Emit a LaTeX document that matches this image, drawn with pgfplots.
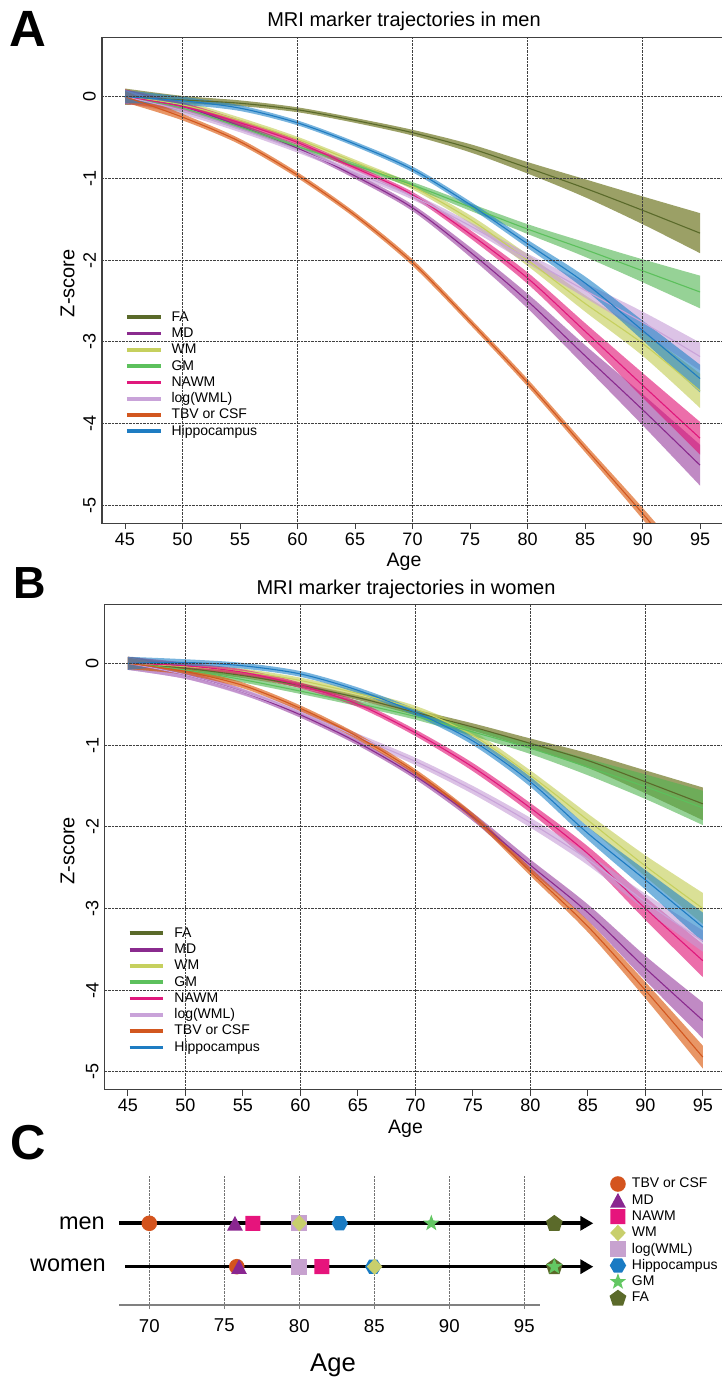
\documentclass[border=0pt]{standalone}
\usepackage{fontspec}
\setmainfont{Liberation Sans}
\usepackage{pgfplots}
\pgfplotsset{compat=1.18}
\usepackage{pgfplotstable}
\usepgfplotslibrary{fillbetween}
\usetikzlibrary{arrows.meta}

% line colours
\definecolor{cFA}{HTML}{5A6A2A}
\definecolor{cMD}{HTML}{8A2B8E}
\definecolor{cWM}{HTML}{C6D05E}
\definecolor{cGM}{HTML}{5CC05C}
\definecolor{cNAWM}{HTML}{E0187C}
\definecolor{cWML}{HTML}{C9A3D9}
\definecolor{cTBV}{HTML}{D2571F}
\definecolor{cHIP}{HTML}{1E7CC2}
% band colours
\definecolor{bFA}{HTML}{586100}
\definecolor{bMD}{HTML}{963C9D}
\definecolor{bWM}{HTML}{C1CB50}
\definecolor{bGM}{HTML}{50B450}
\definecolor{bNAWM}{HTML}{DF0D71}
\definecolor{bWML}{HTML}{C59BD5}
\definecolor{bTBV}{HTML}{D95000}
\definecolor{bHIP}{HTML}{1E82C8}
% marker colours (panel C)
\definecolor{mTBV}{HTML}{D4541E}
\definecolor{mMD}{HTML}{8A2690}
\definecolor{mNAWM}{HTML}{E6147C}
\definecolor{mWM}{HTML}{C8CF6C}
\definecolor{mWML}{HTML}{C7A2CF}
\definecolor{mHIP}{HTML}{1A7BC3}
\definecolor{mGM}{HTML}{63C763}
\definecolor{mFA}{HTML}{5B6A2A}

% custom filled marks
\pgfdeclareplotmark{mCirc}{\pgfpathcircle{\pgfpointorigin}{7.8pt}\pgfusepathqfill}
\pgfdeclareplotmark{mTri}{\pgfpathmoveto{\pgfpoint{0pt}{7.4pt}}\pgfpathlineto{\pgfpoint{-7.9pt}{-7.3pt}}\pgfpathlineto{\pgfpoint{7.9pt}{-7.3pt}}\pgfpathclose\pgfusepathqfill}
\pgfdeclareplotmark{mRsq}{{\pgfsetcornersarced{\pgfpoint{3pt}{3pt}}\pgfpathmoveto{\pgfpoint{0pt}{-7.5pt}}\pgfpathlineto{\pgfpoint{7.5pt}{-7.5pt}}\pgfpathlineto{\pgfpoint{7.5pt}{7.5pt}}\pgfpathlineto{\pgfpoint{-7.5pt}{7.5pt}}\pgfpathlineto{\pgfpoint{-7.5pt}{-7.5pt}}\pgfpathlineto{\pgfpoint{0pt}{-7.5pt}}\pgfpathclose\pgfusepathqfill}}
\pgfdeclareplotmark{mSq}{\pgfpathrectangle{\pgfpoint{-7.9pt}{-7.9pt}}{\pgfpoint{15.8pt}{15.8pt}}\pgfusepathqfill}
\pgfdeclareplotmark{mDia}{\pgfpathmoveto{\pgfpoint{0pt}{8.2pt}}\pgfpathlineto{\pgfpoint{7.8pt}{0pt}}\pgfpathlineto{\pgfpoint{0pt}{-8.2pt}}\pgfpathlineto{\pgfpoint{-7.8pt}{0pt}}\pgfpathclose\pgfusepathqfill}
\pgfdeclareplotmark{mHex}{\pgfpathmoveto{\pgfpoint{8.2pt}{0pt}}\pgfpathlineto{\pgfpoint{4.1pt}{7.1pt}}\pgfpathlineto{\pgfpoint{-4.1pt}{7.1pt}}\pgfpathlineto{\pgfpoint{-8.2pt}{0pt}}\pgfpathlineto{\pgfpoint{-4.1pt}{-7.1pt}}\pgfpathlineto{\pgfpoint{4.1pt}{-7.1pt}}\pgfpathclose\pgfusepathqfill}
\pgfdeclareplotmark{mStar}{\pgfpathmoveto{\pgfpoint{0pt}{8.6pt}}\pgfpathlineto{\pgfpoint{2.06pt}{2.83pt}}\pgfpathlineto{\pgfpoint{8.18pt}{2.66pt}}\pgfpathlineto{\pgfpoint{3.33pt}{-1.08pt}}\pgfpathlineto{\pgfpoint{5.05pt}{-6.96pt}}\pgfpathlineto{\pgfpoint{0pt}{-3.5pt}}\pgfpathlineto{\pgfpoint{-5.05pt}{-6.96pt}}\pgfpathlineto{\pgfpoint{-3.33pt}{-1.08pt}}\pgfpathlineto{\pgfpoint{-8.18pt}{2.66pt}}\pgfpathlineto{\pgfpoint{-2.06pt}{2.83pt}}\pgfpathclose\pgfusepathqfill}
\pgfdeclareplotmark{mPent}{\pgfpathmoveto{\pgfpoint{0pt}{8.4pt}}\pgfpathlineto{\pgfpoint{8.37pt}{2.32pt}}\pgfpathlineto{\pgfpoint{5.17pt}{-7.52pt}}\pgfpathlineto{\pgfpoint{-5.17pt}{-7.52pt}}\pgfpathlineto{\pgfpoint{-8.37pt}{2.32pt}}\pgfpathclose\pgfusepathqfill}

% ---------------- data: men ----------------
\pgfplotstableread{
a m lo hi
45 0 -0.10 0.10
50 -0.04 -0.09 0.01
55 -0.08 -0.115 -0.045
60 -0.16 -0.19 -0.13
65 -0.29 -0.32 -0.26
70 -0.44 -0.475 -0.405
75 -0.63 -0.68 -0.58
80 -0.87 -0.94 -0.80
85 -1.12 -1.23 -1.01
90 -1.39 -1.56 -1.22
95 -1.67 -1.915 -1.425
}\FAm
\pgfplotstableread{
a m lo hi
45 0 -0.08 0.08
50 -0.12 -0.17 -0.07
55 -0.36 -0.395 -0.325
60 -0.63 -0.66 -0.60
65 -0.97 -1.005 -0.935
70 -1.36 -1.40 -1.32
75 -1.90 -1.96 -1.84
80 -2.50 -2.59 -2.41
85 -3.17 -3.30 -3.04
90 -3.83 -4.02 -3.64
95 -4.51 -4.76 -4.26
}\MDm
\pgfplotstableread{
a m lo hi
45 0 -0.08 0.08
50 -0.10 -0.15 -0.05
55 -0.29 -0.325 -0.255
60 -0.52 -0.55 -0.49
65 -0.80 -0.83 -0.77
70 -1.10 -1.135 -1.065
75 -1.50 -1.55 -1.45
80 -2.00 -2.07 -1.93
85 -2.53 -2.63 -2.43
90 -3.02 -3.17 -2.87
95 -3.60 -3.81 -3.39
}\WMm
\pgfplotstableread{
a m lo hi
45 0 -0.08 0.08
50 -0.14 -0.19 -0.09
55 -0.37 -0.405 -0.335
60 -0.61 -0.64 -0.58
65 -0.84 -0.87 -0.81
70 -1.08 -1.115 -1.045
75 -1.35 -1.395 -1.305
80 -1.62 -1.68 -1.56
85 -1.87 -1.96 -1.78
90 -2.13 -2.27 -1.99
95 -2.39 -2.59 -2.19
}\GMm
\pgfplotstableread{
a m lo hi
45 0 -0.09 0.09
50 -0.12 -0.17 -0.07
55 -0.32 -0.355 -0.285
60 -0.56 -0.59 -0.53
65 -0.87 -0.90 -0.84
70 -1.20 -1.235 -1.165
75 -1.68 -1.73 -1.63
80 -2.22 -2.29 -2.15
85 -2.87 -2.97 -2.77
90 -3.53 -3.68 -3.38
95 -4.18 -4.38 -3.98
}\NAWMm
\pgfplotstableread{
a m lo hi
45 0 -0.08 0.08
50 -0.17 -0.22 -0.12
55 -0.40 -0.435 -0.365
60 -0.65 -0.685 -0.615
65 -0.93 -0.965 -0.895
70 -1.22 -1.26 -1.18
75 -1.58 -1.625 -1.535
80 -1.98 -2.04 -1.92
85 -2.37 -2.46 -2.28
90 -2.76 -2.89 -2.63
95 -3.18 -3.35 -3.01
}\WMLm
\pgfplotstableread{
a m lo hi
45 0 -0.07 0.07
50 -0.25 -0.29 -0.21
55 -0.55 -0.585 -0.515
60 -0.96 -0.995 -0.925
65 -1.45 -1.485 -1.415
70 -2.03 -2.07 -1.99
75 -2.75 -2.79 -2.71
80 -3.50 -3.545 -3.455
85 -4.30 -4.35 -4.25
90 -5.10 -5.17 -5.03
95 -5.95 -6.05 -5.85
}\TBVm
\pgfplotstableread{
a m lo hi
45 0 -0.08 0.08
50 -0.05 -0.10 0.00
55 -0.14 -0.175 -0.105
60 -0.32 -0.35 -0.29
65 -0.58 -0.61 -0.55
70 -0.89 -0.925 -0.855
75 -1.32 -1.36 -1.28
80 -1.80 -1.85 -1.75
85 -2.28 -2.36 -2.20
90 -2.86 -2.98 -2.74
95 -3.45 -3.62 -3.28
}\HIPm

% ---------------- data: women ----------------
\pgfplotstableread{
a m lo hi
45 0 -0.08 0.08
50 -0.06 -0.10 -0.02
55 -0.15 -0.18 -0.12
60 -0.27 -0.30 -0.24
65 -0.42 -0.45 -0.39
70 -0.60 -0.635 -0.565
75 -0.78 -0.825 -0.735
80 -0.98 -1.04 -0.92
85 -1.19 -1.28 -1.10
90 -1.45 -1.59 -1.31
95 -1.72 -1.92 -1.52
}\FAw
\pgfplotstableread{
a m lo hi
45 0 -0.08 0.08
50 -0.14 -0.19 -0.09
55 -0.35 -0.385 -0.315
60 -0.63 -0.665 -0.595
65 -0.97 -1.005 -0.935
70 -1.38 -1.42 -1.34
75 -1.88 -1.93 -1.83
80 -2.47 -2.54 -2.40
85 -3.05 -3.15 -2.95
90 -3.73 -3.88 -3.58
95 -4.37 -4.59 -4.15
}\MDw
\pgfplotstableread{
a m lo hi
45 0 -0.08 0.08
50 -0.04 -0.08 0.00
55 -0.10 -0.135 -0.065
60 -0.21 -0.245 -0.175
65 -0.37 -0.405 -0.335
70 -0.56 -0.60 -0.52
75 -0.88 -0.93 -0.83
80 -1.37 -1.43 -1.31
85 -1.92 -2.00 -1.84
90 -2.48 -2.61 -2.35
95 -3.00 -3.19 -2.81
}\WMw
\pgfplotstableread{
a m lo hi
45 0 -0.08 0.08
50 -0.08 -0.12 -0.04
55 -0.20 -0.235 -0.165
60 -0.34 -0.375 -0.305
65 -0.49 -0.525 -0.455
70 -0.65 -0.69 -0.61
75 -0.84 -0.89 -0.79
80 -1.04 -1.11 -0.97
85 -1.27 -1.37 -1.17
90 -1.51 -1.66 -1.36
95 -1.77 -1.98 -1.56
}\GMw
\pgfplotstableread{
a m lo hi
45 0 -0.08 0.08
50 -0.03 -0.07 0.01
55 -0.11 -0.145 -0.075
60 -0.27 -0.305 -0.235
65 -0.50 -0.535 -0.465
70 -0.85 -0.89 -0.81
75 -1.27 -1.32 -1.22
80 -1.77 -1.83 -1.71
85 -2.33 -2.42 -2.24
90 -3.00 -3.14 -2.86
95 -3.64 -3.84 -3.44
}\NAWMw
\pgfplotstableread{
a m lo hi
45 0 -0.08 0.08
50 -0.14 -0.19 -0.09
55 -0.35 -0.39 -0.31
60 -0.60 -0.64 -0.56
65 -0.90 -0.94 -0.86
70 -1.20 -1.245 -1.155
75 -1.55 -1.60 -1.50
80 -1.95 -2.01 -1.89
85 -2.40 -2.47 -2.33
90 -2.92 -3.02 -2.82
95 -3.40 -3.53 -3.27
}\WMLw
\pgfplotstableread{
a m lo hi
45 0 -0.07 0.07
50 -0.10 -0.14 -0.06
55 -0.27 -0.305 -0.235
60 -0.55 -0.585 -0.515
65 -0.90 -0.935 -0.865
70 -1.33 -1.365 -1.295
75 -1.87 -1.91 -1.83
80 -2.55 -2.60 -2.50
85 -3.22 -3.29 -3.15
90 -4.00 -4.10 -3.90
95 -4.82 -4.96 -4.68
}\TBVw
\pgfplotstableread{
a m lo hi
45 0 -0.08 0.08
50 0.01 -0.03 0.05
55 -0.03 -0.065 0.005
60 -0.13 -0.165 -0.095
65 -0.33 -0.365 -0.295
70 -0.60 -0.64 -0.56
75 -0.95 -1.00 -0.90
80 -1.45 -1.51 -1.39
85 -2.08 -2.16 -2.00
90 -2.65 -2.77 -2.53
95 -3.23 -3.41 -3.05
}\HIPw

\newcommand{\band}[3]{%
  \addplot[name path=#3hi, draw=none, forget plot, smooth] table[x=a,y=hi]{#1};
  \addplot[name path=#3lo, draw=none, forget plot, smooth] table[x=a,y=lo]{#1};
  \addplot[fill=#2, fill opacity=0.6, draw=none, forget plot] fill between[of=#3hi and #3lo];
}
\newcommand{\trline}[3]{%
  \addplot[color=#2, line width=1.1pt, smooth] table[x=a,y=m]{#1};
  \addlegendentry{#3}
}
\newcommand{\openbox}{%
  \draw[black!75, line width=1.1pt] (rel axis cs:1.01,1) -- (rel axis cs:0,1) -- (rel axis cs:0,0) -- (rel axis cs:1.01,0);
}

\pgfplotsset{traj/.style={
  scale only axis, height=485.3pt,
  xmin=43, ymin=-5.22, ymax=0.72,
  axis on top,
  axis line style={draw=none},
  xtick={45,50,...,95}, ytick={-5,-4,...,0},
  minor xtick={50,60,...,90},
  xminorgrids, ymajorgrids,
  minor grid style={black!75, densely dotted, line width=0.7pt},
  major grid style={black!75, densely dotted, line width=0.7pt},
  minor tick length=0pt,
  tick align=outside, major tick length=6pt,
  xtick style={black!75, line width=0.9pt},
  ytick style={draw=none},
  xtick pos=bottom, ytick pos=left,
  tick label style={font=\fontsize{18}{18}\selectfont},
  yticklabel style={rotate=90, anchor=south, inner sep=0pt},
  /pgf/number format/assume math mode=true,
  clip mode=individual,
  legend style={draw=none, fill=none, inner sep=0pt, outer sep=0pt,
    font=\fontsize{14}{14}\selectfont, row sep=0pt, column sep=9.2pt,
    nodes={inner sep=0pt, text height=12pt, text depth=4.3pt}},
  legend cell align=left,
  legend image code/.code={\draw[line width=3.8pt] (0pt,0pt) -- (33.6pt,0pt);},
  legend image post style={line width=3.8pt},
}}

\begin{document}
\begin{tikzpicture}
\path (0pt,0pt) rectangle (721pt,1378pt);

% ================= Panel A =================
\begin{axis}[traj, at={(102pt,854.8pt)}, anchor=south west,
  width=619pt, xmax=96.826,
  legend style={at={(axis cs:45,-2.60)}, anchor=north west}]
\band{\FAm}{bFA}{a1}
\band{\MDm}{bMD}{a2}
\band{\WMm}{bWM}{a3}
\band{\GMm}{bGM}{a4}
\band{\NAWMm}{bNAWM}{a5}
\band{\WMLm}{bWML}{a6}
\band{\TBVm}{bTBV}{a7}
\band{\HIPm}{bHIP}{a8}
\trline{\FAm}{cFA}{FA}
\trline{\MDm}{cMD}{MD}
\trline{\WMm}{cWM}{WM}
\trline{\GMm}{cGM}{GM}
\trline{\NAWMm}{cNAWM}{NAWM}
\trline{\WMLm}{cWML}{log(WML)}
\trline{\TBVm}{cTBV}{TBV or CSF}
\trline{\HIPm}{cHIP}{Hippocampus}
\openbox
\end{axis}

% ================= Panel B =================
\begin{axis}[traj, at={(104.8pt,288.2pt)}, anchor=south west,
  width=616.2pt, xmax=96.583,
  legend style={at={(axis cs:45,-3.205)}, anchor=north west}]
\band{\FAw}{bFA}{b1}
\band{\MDw}{bMD}{b2}
\band{\WMw}{bWM}{b3}
\band{\GMw}{bGM}{b4}
\band{\NAWMw}{bNAWM}{b5}
\band{\WMLw}{bWML}{b6}
\band{\TBVw}{bTBV}{b7}
\band{\HIPw}{bHIP}{b8}
\trline{\FAw}{cFA}{FA}
\trline{\MDw}{cMD}{MD}
\trline{\WMw}{cWM}{WM}
\trline{\GMw}{cGM}{GM}
\trline{\NAWMw}{cNAWM}{NAWM}
\trline{\WMLw}{cWML}{log(WML)}
\trline{\TBVw}{cTBV}{TBV or CSF}
\trline{\HIPw}{cHIP}{Hippocampus}
\openbox
\end{axis}

% ================= Panel C =================
\begin{axis}[at={(119.3pt,73pt)}, anchor=south west, scale only axis,
  width=420.75pt, height=130pt,
  xmin=68, xmax=96.05, ymin=0, ymax=130,
  axis x line=bottom, axis y line=none,
  x axis line style={-, black!50, line width=1.3pt},
  xtick={70,75,...,95},
  tick align=outside, major tick length=4pt,
  xtick style={black!50, line width=0.8pt},
  xmajorgrids, major grid style={black!55, densely dotted, line width=0.7pt},
  xticklabel style={font=\fontsize{18.6}{18.6}\selectfont, yshift=-6.5pt},
  /pgf/number format/assume math mode=true,
  clip=false,
  legend style={at={(axis cs:100.67,129.15)}, anchor=north west,
    draw=none, fill=none, inner sep=0pt, outer sep=0pt,
    font=\fontsize{14}{14}\selectfont, row sep=0pt, column sep=5.4pt,
    nodes={inner sep=0pt, text height=12pt, text depth=4.3pt}},
  legend cell align=left,
  legend image code/.code={\path[draw=none,fill=none] (-8.6pt,-8.15pt) rectangle (8.6pt,8.15pt);
    \draw[overlay,#1] plot[only marks] coordinates {(0pt,0pt)};},
]
\addplot[black, line width=3.6pt, -{Triangle[length=13pt,width=14pt]}, forget plot]
  coordinates {(68,81.7) (99.6,81.7)};
\addplot[black, line width=3.6pt, -{Triangle[length=13pt,width=14pt]}, forget plot]
  coordinates {(68.38,38.3) (99.6,38.3)};
% markers: men (y=81.7), women (y=38.3)
\addplot[only marks, mark=mCirc, color=mTBV, forget plot] coordinates {(70,81.7) (75.83,38.3)};
\addplot[only marks, mark=mTri, color=mMD, forget plot] coordinates {(75.71,81.7) (75.98,38.3)};
\addplot[only marks, mark=mRsq, color=mNAWM, forget plot] coordinates {(76.9,81.7) (81.5,38.3)};
\addplot[only marks, mark=mSq, color=mWML, forget plot] coordinates {(80,81.7) (80,38.3)};
\addplot[only marks, mark=mHex, color=mHIP, forget plot] coordinates {(82.7,81.7) (84.93,38.3)};
\addplot[only marks, mark=mDia, color=mWM, forget plot] coordinates {(80,81.7) (85.02,38.3)};
\addplot[only marks, mark=mPent, color=mFA, forget plot] coordinates {(97,81.7) (97,38.3)};
\addplot[only marks, mark=mStar, color=mGM, forget plot] coordinates {(88.8,81.7) (97,38.3)};
\addlegendimage{mark=mCirc, color=mTBV}\addlegendentry{TBV or CSF}
\addlegendimage{mark=mTri, color=mMD}\addlegendentry{MD}
\addlegendimage{mark=mRsq, color=mNAWM}\addlegendentry{NAWM}
\addlegendimage{mark=mDia, color=mWM}\addlegendentry{WM}
\addlegendimage{mark=mSq, color=mWML}\addlegendentry{log(WML)}
\addlegendimage{mark=mHex, color=mHIP}\addlegendentry{Hippocampus}
\addlegendimage{mark=mStar, color=mGM}\addlegendentry{GM}
\addlegendimage{mark=mPent, color=mFA}\addlegendentry{FA}
\end{axis}

% ================= text =================
\node[anchor=base west, inner sep=0pt, font=\bfseries\fontsize{51}{51}\selectfont] at (9pt,1331.3pt) {A};
\node[anchor=base west, inner sep=0pt, font=\bfseries\fontsize{45}{45}\selectfont] at (13pt,779.7pt) {B};
\node[anchor=base west, inner sep=0pt, font=\bfseries\fontsize{49}{49}\selectfont] at (10.5pt,218pt) {C};

\node[anchor=base, inner sep=0pt, font=\fontsize{20}{20}\selectfont] at (404pt,1351.3pt) {MRI marker trajectories in men};
\node[anchor=base, inner sep=0pt, font=\fontsize{20}{20}\selectfont] at (406pt,783.7pt) {MRI marker trajectories in women};

\node[anchor=base, inner sep=0pt, font=\fontsize{19.5}{19.5}\selectfont] at (404pt,811.3pt) {Age};
\node[anchor=base, inner sep=0pt, font=\fontsize{19.5}{19.5}\selectfont] at (405.5pt,244pt) {Age};

\node[rotate=90, inner sep=0pt, font=\fontsize{20}{20}\selectfont] at (67.5pt,1094.7pt) {Z-score};
\node[rotate=90, inner sep=0pt, font=\fontsize{20}{20}\selectfont] at (67.5pt,527.2pt) {Z-score};

\node[anchor=east, inner sep=0pt, font=\fontsize{23.5}{23.5}\selectfont] at (105pt,155pt) {men};
\node[anchor=east, inner sep=0pt, font=\fontsize{23.5}{23.5}\selectfont] at (106pt,113pt) {women};

\node[anchor=base, inner sep=0pt, font=\fontsize{25.6}{25.6}\selectfont] at (333pt,6.3pt) {Age};

\pgfresetboundingbox
\useasboundingbox (0pt,0pt) rectangle (721pt,1378pt);
\end{tikzpicture}
\end{document}
